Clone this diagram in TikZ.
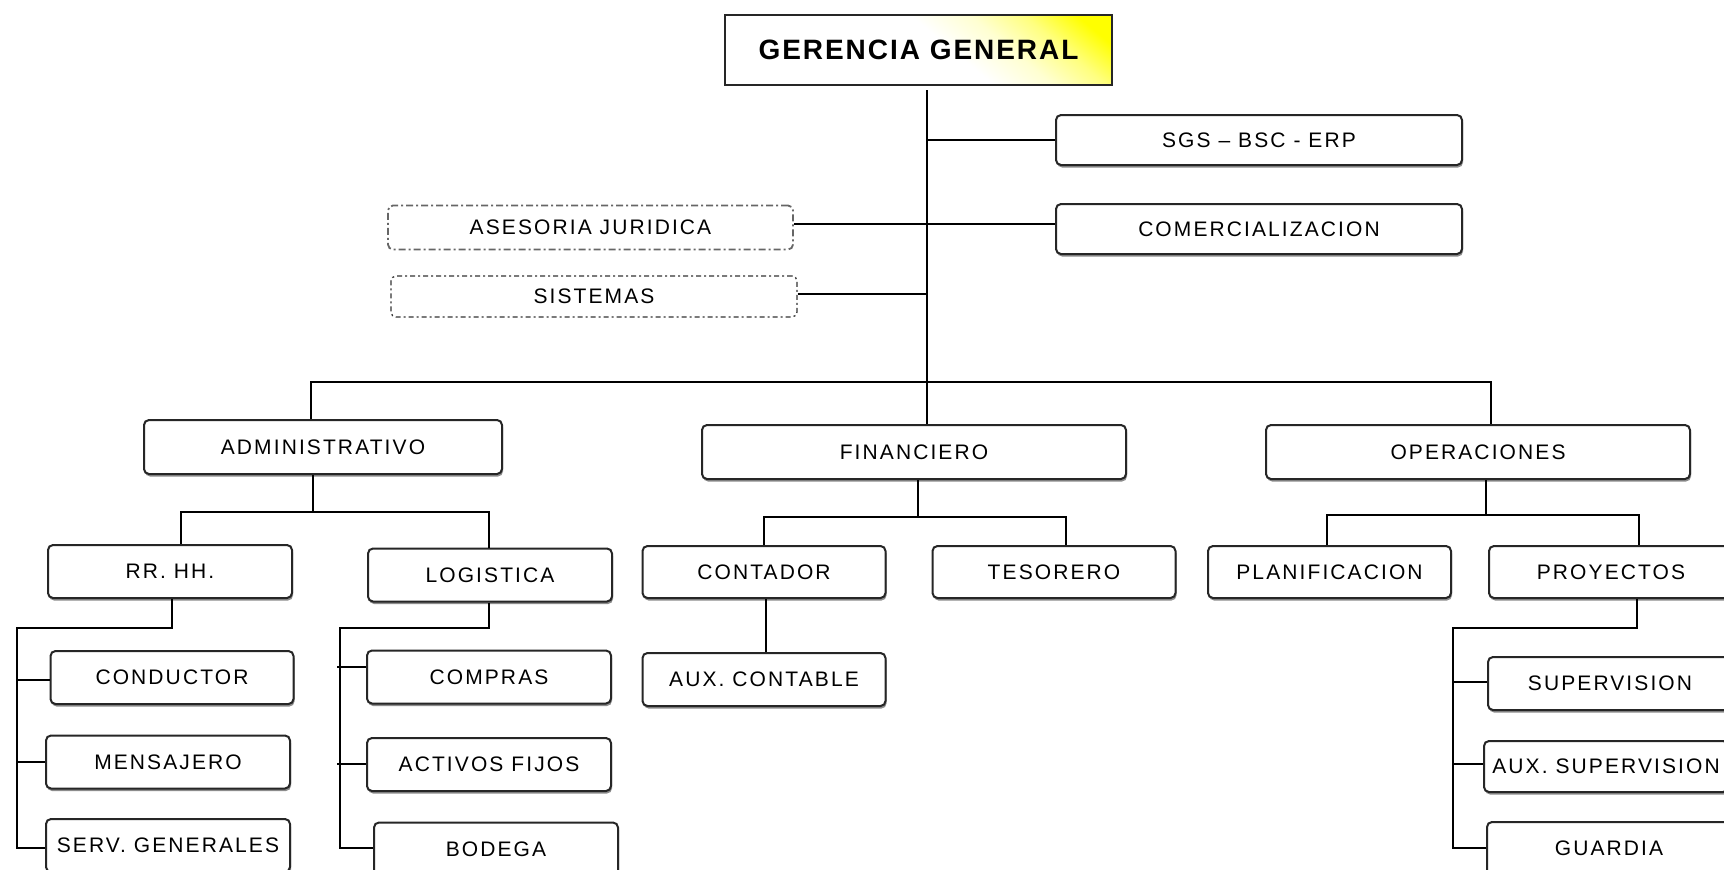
\documentclass[tikz,border=0pt]{standalone}
\usepackage{fontspec}
\setmainfont{Liberation Sans}[LetterSpace=10]
\newfontfamily\ggfont{Liberation Sans}[LetterSpace=7]
\usetikzlibrary{shadows}
\pgfdeclarehorizontalshading{ggshade}{100bp}{color(0bp)=(white); color(55bp)=(white); color(64bp)=(yellow!18); color(72bp)=(yellow!50); color(80bp)=(yellow); color(100bp)=(yellow)}
\begin{document}
\begin{tikzpicture}[x=1pt,y=-1pt,
  box/.style={draw=black!85, line width=2pt, rounded corners=5pt, fill=white,
    inner sep=0pt, font=\fontsize{21}{25}\selectfont,
    drop shadow={shadow xshift=1pt, shadow yshift=-2.5pt, fill=black!45, opacity=1}},
  ubox/.style={inner sep=0pt, rounded corners=5pt, font=\fontsize{21}{25}\selectfont},
  ln/.style={line width=2pt, draw=black}]
\useasboundingbox (0,0) rectangle (1724,870);
\fill[white] (0,0) rectangle (1724,870);

% top
\node[draw=black!85, line width=2pt, shade, shading=ggshade, shading angle=50,
  minimum width=387pt, minimum height=70pt, inner sep=0pt,
  font=\ggfont\bfseries\fontsize{28}{32}\selectfont] (gg) at (918.5,50) {GERENCIA GENERAL};
\node[box, minimum width=406pt, minimum height=50pt] (sgs) at (1259,140) {SGS – BSC - ERP};
\node[box, minimum width=406pt, minimum height=50pt] (com) at (1259,229) {COMERCIALIZACION};
\node[ubox, draw=black!60, line width=1.8pt, dash pattern=on 7pt off 3pt on 2pt off 3pt,
  minimum width=405pt, minimum height=44pt] (ase) at (590.5,227.5) {ASESORIA JURIDICA};
\node[ubox, draw=black!80, line width=1.3pt, dash pattern=on 5pt off 3pt on 2pt off 3pt,
  minimum width=406pt, minimum height=41pt] (sis) at (594,296.5) {SISTEMAS};

% level 2
\node[box, minimum width=358pt, minimum height=54pt] (adm) at (323,447) {ADMINISTRATIVO};
\node[box, minimum width=424pt, minimum height=54pt] (fin) at (914,452) {FINANCIERO};
\node[box, minimum width=424pt, minimum height=54pt] (opr) at (1478,452) {OPERACIONES};

% level 3
\node[box, minimum width=244pt, minimum height=53pt] (rrh) at (170,571.5) {RR. HH.};
\node[box, minimum width=244pt, minimum height=53pt] (log) at (490,575) {LOGISTICA};
\node[box, minimum width=243pt, minimum height=52pt] (cont) at (764,572) {CONTADOR};
\node[box, minimum width=243pt, minimum height=52pt] (tes) at (1054,572) {TESORERO};
\node[box, minimum width=243pt, minimum height=52pt] (pla) at (1329.5,572) {PLANIFICACION};
\node[box, minimum width=244pt, minimum height=52pt] (pry) at (1611,572) {PROYECTOS};

% level 4
\node[box, minimum width=243pt, minimum height=53pt] (cond) at (172,677.5) {CONDUCTOR};
\node[box, minimum width=244pt, minimum height=53pt] (men) at (168,762) {MENSAJERO};
\node[box, minimum width=244pt, minimum height=53pt] (srv) at (168,845.5) {SERV. GENERALES};
\node[box, minimum width=244pt, minimum height=53pt] (cmp) at (489,677) {COMPRAS};
\node[box, minimum width=244pt, minimum height=53pt] (act) at (489,764.5) {ACTIVOS FIJOS};
\node[box, minimum width=244pt, minimum height=53pt] (bod) at (496,849) {BODEGA};
\node[box, minimum width=243pt, minimum height=53pt] (aux) at (764,679.5) {AUX. CONTABLE};
\node[box, minimum width=244pt, minimum height=53pt] (sup) at (1610,683.5) {SUPERVISION};
\node[box, minimum width=244pt, minimum height=51pt] (axs) at (1606,766.5) {AUX. SUPERVISION};
\node[box, minimum width=244pt, minimum height=53pt] (gua) at (1609,848.5) {GUARDIA};

% trunk and staff lines
\coordinate (tk) at (927,90);
\coordinate (bar) at (927,381.5);
\draw[ln] (tk) -- (tk |- fin.north);
\draw[ln] (tk |- sgs.west) -- (sgs.west);
\draw[ln] (ase.east |- 0,224) -- (com.west |- 0,224);
\draw[ln] (sis.east |- 0,294) -- (tk |- 0,294);
\draw[ln] (adm.north -| 311,0) |- (bar) -| (opr.north -| 1491,0);

% administrativo
\coordinate (a1) at (313,512);
\draw[ln] (adm.south -| a1) -- (a1);
\draw[ln] (rrh.north -| 181,0) |- (a1) -| (log.north -| 489,0);
\coordinate (r1) at (17,628);
\draw[ln] (rrh.south -| 171.5,0) |- (r1) |- (srv.west |- 0,848);
\draw[ln] (r1 |- 0,680) -- (cond.west |- 0,680);
\draw[ln] (r1 |- 0,762) -- (men.west |- 0,762);
\coordinate (l1) at (340,628);
\draw[ln] (log.south -| 489,0) |- (l1) |- (bod.west |- 0,848);
\draw[ln] (337,667) -- (cmp.west |- 0,667);
\draw[ln] (337,764) -- (act.west |- 0,764);

% financiero
\coordinate (f1) at (918,517);
\draw[ln] (fin.south -| f1) -- (f1);
\draw[ln] (cont.north -| 764,0) |- (f1) -| (tes.north -| 1066,0);
\draw[ln] (cont.south -| 766,0) -- (aux.north -| 766,0);

% operaciones
\coordinate (o1) at (1485.5,515);
\draw[ln] (opr.south -| o1) -- (o1);
\draw[ln] (pla.north -| 1327,0) |- (o1) -| (pry.north -| 1639,0);
\coordinate (p1) at (1453,628);
\draw[ln] (pry.south -| 1637,0) |- (p1) |- (gua.west |- 0,848);
\draw[ln] (p1 |- 0,682) -- (sup.west |- 0,682);
\draw[ln] (p1 |- 0,764) -- (axs.west |- 0,764);
\end{tikzpicture}
\end{document}
